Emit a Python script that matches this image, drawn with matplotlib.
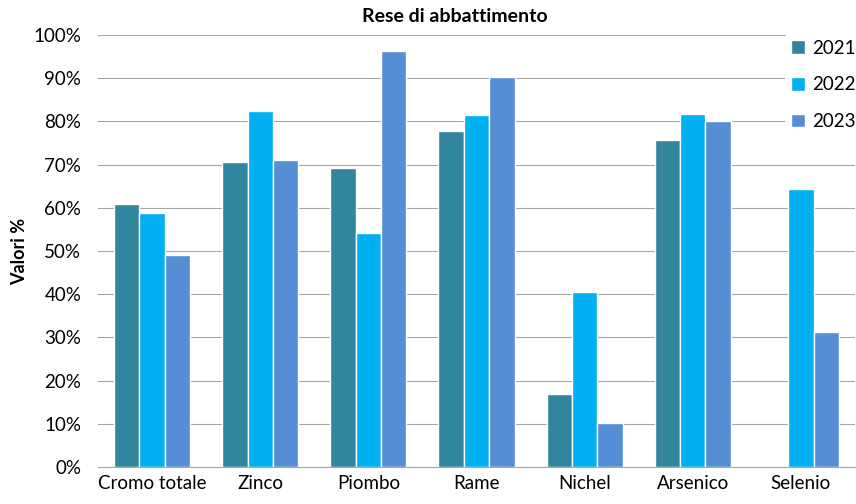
import numpy as np
import matplotlib.pyplot as plt
from matplotlib.ticker import PercentFormatter

plt.rcParams['font.family'] = ['Lato', 'DejaVu Sans']

categorie = ['Cromo totale', 'Zinco', 'Piombo', 'Rame', 'Nichel', 'Arsenico', 'Selenio']
anni = ['2021', '2022', '2023']
v2021 = [60.8, 70.5, 69.2, 77.7, 16.9, 75.8, np.nan]
v2022 = [58.7, 82.3, 54.1, 81.4, 40.6, 81.7, 64.4]
v2023 = [49.1, 71.1, 96.2, 90.2, 10.2, 80.1, 31.2]
colori = ['#31859C', '#00B0F0', '#558ED5']

fig = plt.figure(figsize=(8.56, 5.04), dpi=100)
ax = fig.add_axes([98/856, 1-467/504, 757/856, 432/504])

x = np.arange(len(categorie))
w = 0.235
for i, (vals, lab) in enumerate(zip([v2021, v2022, v2023], anni)):
    ax.bar(x + (i - 1) * w, vals, width=w, color=colori[i], label=lab,
           edgecolor='white', linewidth=1, zorder=3)

ax.set_xlim(-0.5, len(categorie) - 0.5)
ax.set_ylim(0, 100)
ax.set_yticks(np.arange(0, 101, 10))
ax.yaxis.set_major_formatter(PercentFormatter(decimals=0))
ax.set_xticks(x)
ax.set_xticklabels(categorie)
ax.tick_params(axis='both', length=0, labelsize=13.5, colors='#000000')
ax.tick_params(axis='y', pad=12)
ax.tick_params(axis='x', pad=6)
ax.grid(axis='y', color='#A6A6A6', linewidth=0.8, zorder=0)
for s in ['top', 'right', 'left']:
    ax.spines[s].set_visible(False)
ax.spines['bottom'].set_color('#A6A6A6')
ax.spines['bottom'].set_zorder(4)

ax.set_ylabel('Valori %', fontsize=13, fontweight='bold', labelpad=4)
fig.text(455/856, 1-17/504, 'Rese di abbattimento', ha='center', va='center',
         fontsize=14, fontweight='bold')

leg = ax.legend(loc='upper left', bbox_to_anchor=(785/856, 1-34/504),
                bbox_transform=fig.transFigure, frameon=True, fontsize=13.5,
                handlelength=0.75, handleheight=0.75, handletextpad=0.4,
                labelspacing=1.05, borderpad=0.3, borderaxespad=0)
leg.get_frame().set_facecolor('white')
leg.get_frame().set_edgecolor('none')
leg.get_frame().set_alpha(1)
leg.set_zorder(10)

fig.savefig('out.png', dpi=100)
